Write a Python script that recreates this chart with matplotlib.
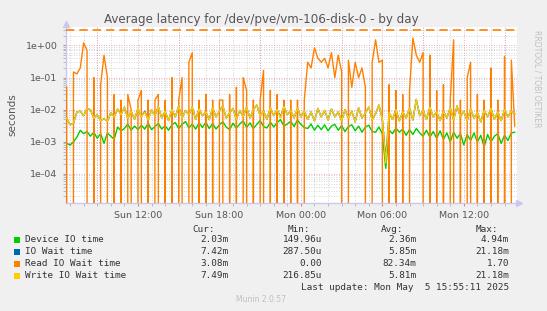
import matplotlib
matplotlib.use('Agg')
import matplotlib.pyplot as plt
import matplotlib.dates as mdates
import numpy as np
import pandas as pd
from matplotlib.ticker import LogLocator, FuncFormatter, NullFormatter

# ---------------- data (15-minute samples, milliseconds) ----------------
start_time = "2025-05-04 06:45"
sample_step = "15min"

device_ms = [0.9, 0.8, 1.0, 1.4, 2.3, 1.8, 2.1, 1.5, 2.0, 1.3, 1.8, 0.9, 1.9,
             1.5, 1.2, 2.9, 2.2, 2.6, 3.6, 2.3, 3.1, 2.4, 3.3, 2.5, 3.8, 2.4, 3.0, 3.7, 2.5, 3.2, 2.3,
             3.4, 4.0, 2.6, 3.5, 4.3, 2.7, 3.6, 2.5, 3.9, 2.8, 4.1, 2.6, 3.7, 2.5, 3.4, 4.2, 2.9, 2.4, 3.8, 2.7,
             3.6, 4.5, 2.8, 3.9, 2.6, 3.5, 4.6, 3.0, 2.7, 4.1, 2.9, 4.0, 4.9, 3.1, 3.6, 4.4, 3.0, 4.8, 3.5, 2.8,
             2.6, 3.6, 2.3, 3.3, 2.4, 3.4, 2.2, 3.1, 3.5, 2.3, 3.2, 2.1, 3.0, 3.4, 2.2, 3.1, 2.0, 2.9, 3.3, 2.1,
             2.0, 2.9, 1.8, 0.15, 2.3, 1.8, 2.7, 2.0, 2.5, 1.6, 2.4, 1.7, 2.6, 1.9, 1.5, 2.3, 1.4, 2.1, 1.3, 2.2,
             1.2, 1.9, 1.0, 2.0, 1.3, 1.8, 0.8, 1.7, 1.1, 1.9, 1.0, 1.6, 0.7, 1.7, 1.0, 1.5, 1.8, 0.9, 1.6, 1.1, 1.9, 2.0]

iowait_ms = [5.6, 3.4, 3.8, 8.5, 9.0, 6.5, 11.0, 10.0, 5.5, 7.0, 4.6, 5.2, 4.4,
             8.0, 6.0, 10.5, 7.0, 12.0, 5.5, 9.0, 5.0, 11.0, 6.0, 9.0, 4.8, 10.0, 6.5, 12.5, 5.5, 9.0, 4.6,
             10.0, 6.0, 13.0, 5.5, 9.5, 7.0, 12.0, 5.0, 10.5, 6.5, 8.5, 4.9, 11.5, 6.0, 9.0, 13.5, 5.5, 8.0, 11.0, 5.0,
             9.5, 6.0, 12.0, 5.5, 10.0, 14.0, 6.5, 9.0, 5.0, 11.5, 6.5, 10.0, 6.0, 12.5, 7.0, 9.5, 5.5, 11.0, 6.0, 9.0,
             5.0, 8.5, 4.5, 11.0, 6.0, 9.5, 4.8, 10.5, 6.0, 8.5, 4.5, 10.0, 5.5, 9.0, 4.2, 11.5, 5.5, 8.0, 12.0, 4.8,
             7.5, 14.0, 5.0, 0.29, 8.0, 5.0, 10.0, 4.5, 8.5, 5.5, 11.0, 4.8, 21.0, 6.5, 9.5, 5.0, 12.0, 6.0, 8.5, 4.6,
             9.0, 5.5, 11.5, 4.8, 13.0, 6.0, 9.0, 4.5, 10.5, 5.5, 8.0, 4.2, 9.5, 6.0, 11.0, 5.0, 8.5, 4.6, 10.0, 6.0, 9.0, 7.4]

read_ms = [50, 0, 150, 130, 200, 1200, 700, 0, 100, 0, 60, 500, 100,
           0, 30, 0, 20, 0, 30, 10, 0, 20, 40, 0, 20, 0, 20, 30, 0, 20, 0,
           100, 0, 20, 100, 0, 300, 600, 0, 20, 0, 30, 0, 20, 0, 20, 20, 0, 30, 0, 50,
           0, 100, 40, 0, 20, 0, 20, 170, 0, 40, 0, 30, 0, 20, 0, 20, 0, 20, 0, 20,
           300, 200, 850, 400, 300, 400, 200, 600, 100, 500, 150, 0, 350, 50, 300, 100, 200, 50, 0, 300,
           1500, 300, 350, 0, 60, 0, 40, 0, 30, 0, 40, 1700, 500, 300, 600, 0, 500, 0, 40, 0,
           60, 0, 20, 1500, 0, 20, 0, 100, 300, 0, 30, 0, 20, 0, 200, 0, 20, 0, 450, 0, 350, 3.1]

write_ms = [5.6, 3.4, 3.8, 8.5, 9.0, 6.5, 11.0, 10.0, 5.5, 7.0, 4.6, 5.2, 4.4,
            8.0, 6.0, 10.5, 7.0, 12.0, 5.5, 9.0, 5.0, 11.0, 6.0, 8.5, 4.8, 10.0, 6.5, 12.5, 5.5, 9.0, 4.6,
            10.0, 6.0, 13.0, 5.5, 9.5, 7.0, 12.0, 5.0, 10.5, 6.5, 8.5, 4.9, 11.5, 6.0, 9.0, 13.5, 5.5, 8.0, 11.0, 5.0,
            9.5, 6.0, 12.0, 5.5, 10.0, 14.0, 6.5, 9.0, 5.0, 11.5, 6.5, 10.0, 5.5, 12.5, 7.0, 9.5, 5.5, 11.0, 6.0, 9.0,
            5.0, 8.5, 4.5, 11.0, 6.0, 9.5, 4.8, 10.5, 6.0, 8.5, 4.5, 10.0, 5.5, 9.0, 4.2, 11.5, 5.5, 8.0, 12.0, 4.8,
            7.5, 14.0, 5.0, 0.22, 8.0, 5.0, 10.0, 4.5, 8.5, 5.5, 11.0, 4.8, 21.0, 6.5, 9.5, 5.0, 12.0, 6.0, 8.5, 4.6,
            9.0, 5.5, 11.5, 4.8, 13.0, 6.0, 9.0, 4.5, 10.5, 5.5, 8.0, 4.2, 9.5, 6.0, 11.0, 5.0, 8.5, 4.6, 10.0, 6.0, 9.0, 7.5]

warning_level = 3.0  # seconds

series_names = ["Device IO time", "IO Wait time", "Read IO Wait time", "Write IO Wait time"]
series_colors = ["#00cc00", "#0066b3", "#ff8000", "#ffcc00"]
cur_vals = ["2.03m", "7.42m", "3.08m", "7.49m"]
min_vals = ["149.96u", "287.50u", "0.00", "216.85u"]
avg_vals = ["2.36m", "5.85m", "82.34m", "5.81m"]
max_vals = ["4.94m", "21.18m", "1.70", "21.18m"]

x_start = "2025-05-04 06:42"
x_end = "2025-05-05 15:55"

# ---------------- figure ----------------
W, H = 547, 311
fig = plt.figure(figsize=(W / 100, H / 100), dpi=100, facecolor="#f0f0f0")
ax = fig.add_axes([66 / W, 1 - 203 / H, 451 / W, 176.5 / H])
ax.set_facecolor("white")

for vals, col in zip([device_ms, iowait_ms, read_ms, write_ms], series_colors):
    t = pd.date_range(start_time, periods=len(vals), freq=sample_step)
    ax.plot(t, np.array(vals) / 1000.0, color=col, lw=1.0, zorder=3)

ax.axhline(warning_level, color="#ff8000", lw=1.2, ls=(0, (5, 3)), zorder=4)

ax.set_yscale("log", nonpositive="clip")
ax.set_ylim(1.25e-5, 3.9)
ax.set_xlim(pd.Timestamp(x_start), pd.Timestamp(x_end))

ax.yaxis.set_major_locator(LogLocator(base=10, numticks=20))
ax.yaxis.set_minor_locator(LogLocator(base=10, subs=np.arange(2, 10), numticks=20))
ax.yaxis.set_major_formatter(FuncFormatter(lambda v, p: f"{v:.0e}"))
ax.yaxis.set_minor_formatter(NullFormatter())

ax.xaxis.set_major_locator(mdates.HourLocator(byhour=[0, 6, 12, 18]))
ax.xaxis.set_major_formatter(mdates.DateFormatter("%a %H:%M"))
ax.xaxis.set_minor_locator(mdates.HourLocator())

for h in mdates.drange(pd.Timestamp("2025-05-04 09:00").to_pydatetime(),
                       pd.Timestamp("2025-05-05 16:00").to_pydatetime(),
                       pd.Timedelta(hours=3).to_pytimedelta()):
    ax.axvline(h, color="#e08080", lw=0.6, ls=(0, (1, 2)), zorder=1.5, alpha=0.8)
ax.grid(which="minor", axis="x", color="#c8c8c8", lw=0.6, ls=(0, (1, 2)), zorder=1)
ax.grid(which="minor", axis="y", color="#c8c8c8", lw=0.6, ls=(0, (1, 2)), zorder=1)
ax.grid(which="major", axis="y", color="#e08080", lw=0.6, ls=(0, (1, 2)), zorder=1.5, alpha=0.8)
ax.set_axisbelow(True)

ax.tick_params(which="both", labelsize=6.8, labelcolor="#555555")
ax.tick_params(which="major", length=2, color="#e08080", width=0.8)
ax.tick_params(which="minor", length=2, color="#b0b0b0", width=0.6)
ax.tick_params(axis="x", pad=4)
ax.tick_params(axis="y", pad=4)

for s in ["top", "right"]:
    ax.spines[s].set_visible(False)
for s in ["left", "bottom"]:
    ax.spines[s].set_color("#c8c8f0")
    ax.spines[s].set_linewidth(1.0)

ax.plot([1.005], [0], marker=">", color="#c8c8f0", ms=5, transform=ax.transAxes, clip_on=False)
ax.plot([0], [1.012], marker="^", color="#c8c8f0", ms=5, transform=ax.transAxes, clip_on=False)

ax.set_ylabel("seconds", fontsize=7.5, color="#555555", labelpad=6)

fig.text(261 / W, 1 - 20 / H, "Average latency for /dev/pve/vm-106-disk-0 - by day",
         ha="center", va="center", fontsize=8.6, color="#555555")
fig.text(537 / W, 1 - 30 / H, "RRDTOOL / TOBI OETIKER", rotation=270, ha="center", va="top",
         fontsize=5.5, color="#c0c0c0")

mono = dict(family="DejaVu Sans Mono", fontsize=6.75, color="#333333")
hy = 1 - 229 / H
fig.text(215 / W, hy, "Cur:", ha="right", va="center", **mono)
fig.text(310 / W, hy, "Min:", ha="right", va="center", **mono)
fig.text(403 / W, hy, "Avg:", ha="right", va="center", **mono)
fig.text(498 / W, hy, "Max:", ha="right", va="center", **mono)
for k, name in enumerate(series_names):
    yy = 1 - (240 + 12 * k) / H
    fig.patches.append(plt.Rectangle((13.5 / W, yy - 3 / H), 6 / W, 6 / H, transform=fig.transFigure,
                                     facecolor=series_colors[k], edgecolor="none"))
    fig.text(25 / W, yy, name, ha="left", va="center", **mono)
    fig.text(228 / W, yy, cur_vals[k], ha="right", va="center", **mono)
    fig.text(322 / W, yy, min_vals[k], ha="right", va="center", **mono)
    fig.text(416 / W, yy, avg_vals[k], ha="right", va="center", **mono)
    fig.text(509 / W, yy, max_vals[k], ha="right", va="center", **mono)
fig.text(509 / W, 1 - 288 / H, "Last update: Mon May  5 15:55:11 2025", ha="right", va="center", **mono)
fig.text(261 / W, 1 - 300 / H, "Munin 2.0.57", ha="center", va="center", fontsize=5.5, color="#c0c0c0")

fig.savefig("out.png", dpi=100, facecolor=fig.get_facecolor())
